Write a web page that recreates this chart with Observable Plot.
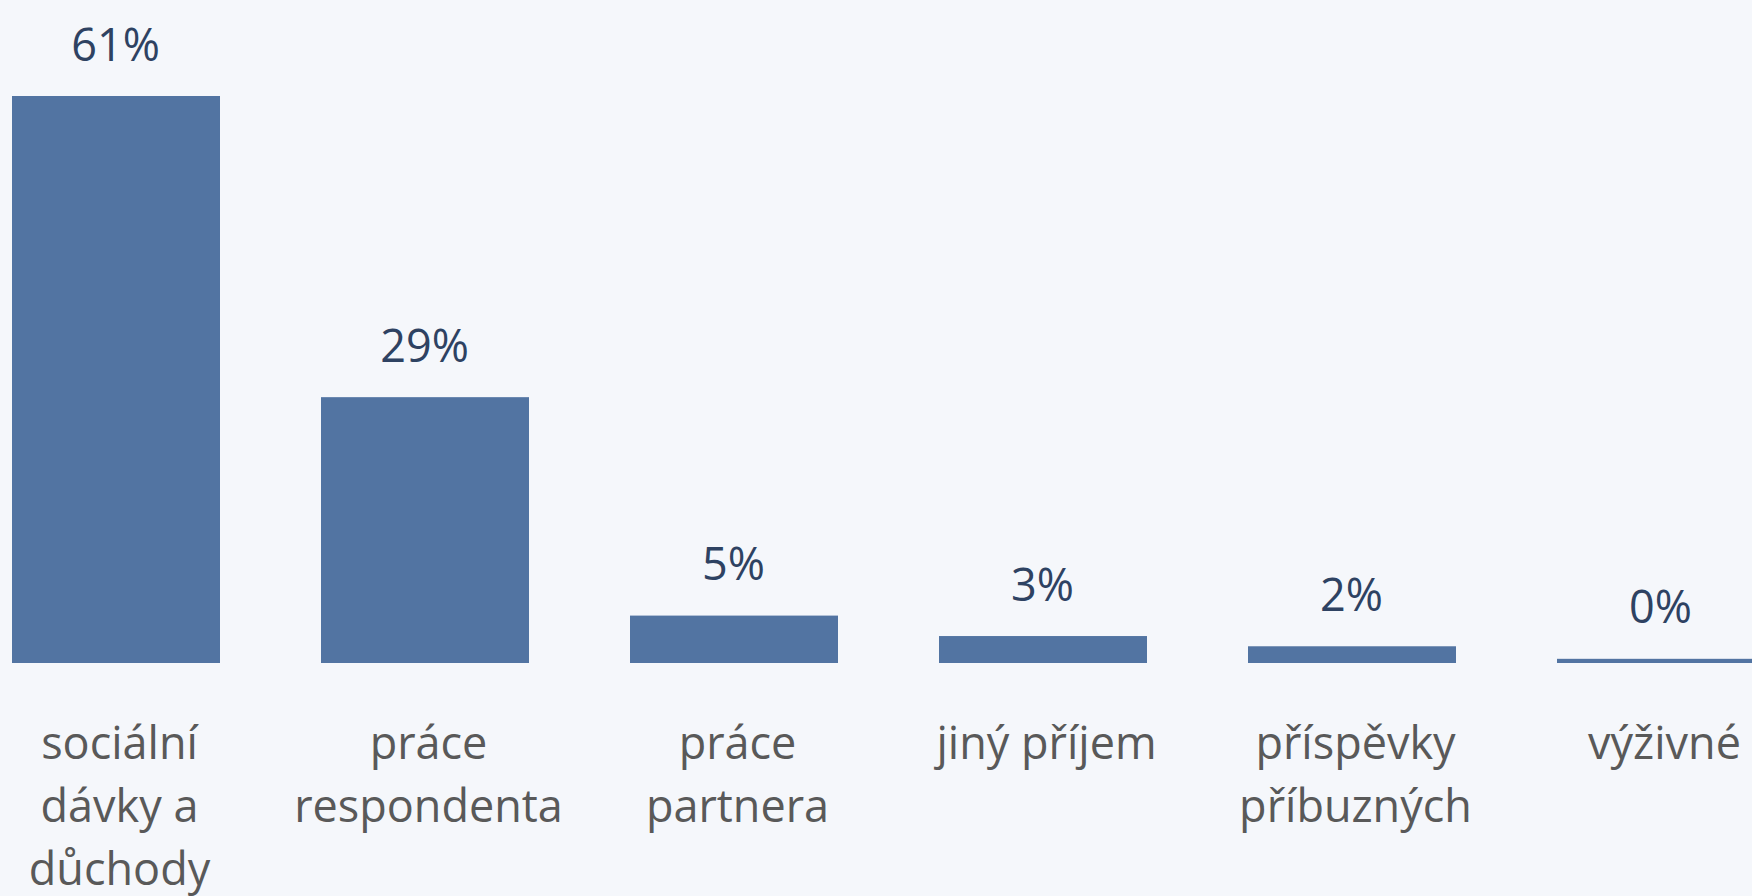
<!DOCTYPE html>
<html>
<head>
<meta charset="utf-8">
<script src="https://cdn.jsdelivr.net/npm/d3@7"></script>
<script src="https://cdn.jsdelivr.net/npm/@observablehq/plot@0.6"></script>
<style>
  html, body { margin: 0; padding: 0; background: #f5f7fb; }
  #chart svg { display: block; }
</style>
</head>
<body>
<div id="chart"></div>
<script>
const categories = ["sociální dávky a důchody", "práce respondenta", "práce partnera", "jiný příjem", "příspěvky příbuzných", "výživné"];
const tickLabels = ["sociální\ndávky a\ndůchody", "práce\nrespondenta", "práce\npartnera", "jiný příjem", "příspěvky\npříbuzných", "výživné"];
const values = [61.0, 28.6, 5.1, 2.9, 1.8, 0.45];
const valueLabels = ["61%", "29%", "5%", "3%", "2%", "0%"];

const data = categories.map((c, i) => ({category: c, value: values[i], label: valueLabels[i], tick: tickLabels[i]}));

const chart = Plot.plot({
  width: 1752,
  height: 896,
  style: {background: "#f5f7fb", fontFamily: "'Open Sans', 'Noto Sans', sans-serif", overflow: "hidden"},
  x: {domain: categories, range: [10, 1767], paddingInner: 0.328, paddingOuter: 0, axis: null},
  y: {domain: [0, 70], range: [663, 12.35], axis: null},
  marks: [
    Plot.barY(data, {x: "category", y: "value", fill: "#5274a2"}),
    Plot.text(data, {x: "category", y: "value", text: "label", lineAnchor: "bottom", dy: -36, dx: -1, fontSize: 45, fill: "#2e4262"}),
    Plot.text(data, {x: "category", y: () => 0, text: "tick", lineAnchor: "top", dy: 51, dx: 3, fontSize: 45, lineHeight: 1.4, fill: "#595959"})
  ]
});
document.getElementById("chart").appendChild(chart);
</script>
</body>
</html>
